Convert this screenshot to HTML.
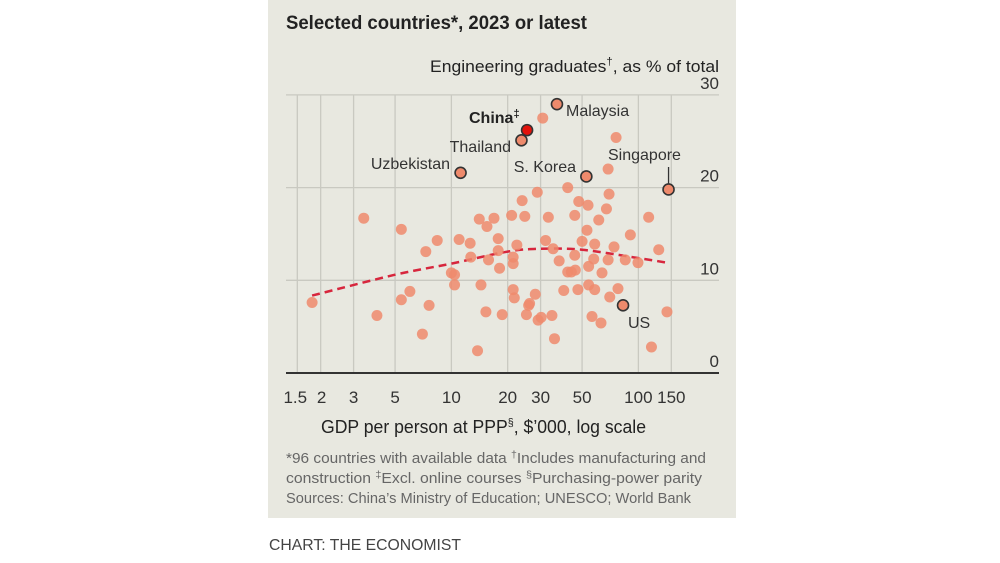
<!DOCTYPE html>
<html><head><meta charset="utf-8"><style>
body{margin:0;background:#fff;}
svg{display:block;font-family:"Liberation Sans Narrow","Liberation Sans",sans-serif;}
</style></head><body>
<svg id="chart" width="1000" height="563" viewBox="0 0 1000 563">
<rect x="268" y="0" width="468" height="518" fill="#e8e8e0"/>
<text x="286" y="29" font-size="19" font-weight="bold" fill="#222" textLength="301" lengthAdjust="spacingAndGlyphs">Selected countries*, 2023 or latest</text>
<text x="719" y="72" font-size="17" fill="#222" text-anchor="end" textLength="289" lengthAdjust="spacingAndGlyphs">Engineering graduates<tspan font-size="11" dy="-7">†</tspan><tspan dy="7">, as % of total</tspan></text>
<g id="grid"></g>
<g id="trend"></g>
<g id="dots"></g>
<g id="labels" font-size="16" fill="#333"></g>
<text x="321" y="433" font-size="18" fill="#222" textLength="325" lengthAdjust="spacingAndGlyphs">GDP per person at PPP<tspan font-size="11" dy="-7">§</tspan><tspan dy="7">, $’000, log scale</tspan></text>
<g font-size="14.5" fill="#666">
<text x="286" y="463" textLength="420" lengthAdjust="spacingAndGlyphs">*96 countries with available data   <tspan font-size="10" dy="-5">†</tspan><tspan dy="5">Includes manufacturing and</tspan></text>
<text x="286" y="483" textLength="416" lengthAdjust="spacingAndGlyphs">construction   <tspan font-size="10" dy="-5">‡</tspan><tspan dy="5">Excl. online courses   </tspan><tspan font-size="10" dy="-5">§</tspan><tspan dy="5">Purchasing-power parity</tspan></text>
<text x="286" y="503" textLength="405" lengthAdjust="spacingAndGlyphs">Sources: China’s Ministry of Education; UNESCO; World Bank</text>
</g>
<text x="269" y="550" font-size="16" fill="#444" textLength="192" lengthAdjust="spacingAndGlyphs">CHART: THE ECONOMIST</text>
</svg>
<script>
const xTicks=[1.5,2,3,5,10,20,30,50,100,150];
const yTicks=[0,10,20,30];
const gdp=[1.8,3.4,4.0,5.4,5.4,6.0,7.0,7.3,7.6,8.4,10,10.4,11.0,10.4,12.6,12.7,13.8,14.1,14.4,15.3,15.5,15.8,16.9,17.8,17.8,18.1,18.7,21.0,21.4,21.4,21.4,21.7,22.4,23.9,24.7,25.2,25.9,26.2,28.1,28.8,29.1,30.2,30.8,31.9,33.0,34.5,35.0,35.6,37.7,39.9,41.9,41.9,43.8,45.7,45.7,46.0,47.5,48.0,50.0,53.1,53.8,54.2,54.2,56.5,57.7,58.4,58.4,61.4,63.1,63.9,67.5,68.9,68.9,69.7,70.3,74.1,76.0,77.8,85.1,90.6,99.5,113.5,117.5,128.5,142.2];
const share=[7.6,16.7,6.2,15.5,7.9,8.8,4.2,13.1,7.3,14.3,10.8,9.5,14.4,10.6,14.0,12.5,2.4,16.6,9.5,6.6,15.8,12.2,16.7,14.5,13.2,11.3,6.3,17.0,11.8,12.5,9.0,8.1,13.8,18.6,16.9,6.3,7.3,7.5,8.5,19.5,5.7,6.0,27.5,14.3,16.8,6.2,13.4,3.7,12.1,8.9,20.0,10.9,10.9,12.7,17.0,11.1,9.0,18.5,14.2,15.4,18.1,11.5,9.5,6.1,12.3,9.0,13.9,16.5,5.4,10.8,17.7,22.0,12.2,19.3,8.2,13.6,25.4,9.1,12.2,14.9,11.9,16.8,2.8,13.3,6.6];
const hlNames=["Uzbekistan","Thailand","S. Korea","Singapore","US","Malaysia","China"];
const hlGdp=[11.2,23.7,52.7,145,82.8,36.7,25.4];
const hlShare=[21.6,25.1,21.2,19.8,7.3,29.0,26.2];
const trendGdp=[1.8,5,10,20,30,50,100,142];
const trendShare=[8.35,10.6,11.8,13.1,13.4,13.3,12.4,11.9];

const NS="http://www.w3.org/2000/svg";
const X=g=>297.3+187*Math.log10(g/1.5);
const Y=v=>373-9.27*v;
function mk(tag,attrs,parent,txt){const e=document.createElementNS(NS,tag);for(const k in attrs)e.setAttribute(k,attrs[k]);if(txt!==undefined)e.textContent=txt;parent.appendChild(e);return e;}
const grid=document.getElementById('grid');
yTicks.forEach(v=>{
  if(v>0){const l=mk('line',{x1:286,x2:719,y1:Y(v),y2:Y(v),stroke:'#c9c9c1','stroke-width':1.3},grid);
  
  }
  const t=mk('text',{x:719,y:Y(v)-6,'text-anchor':'end','font-size':17,fill:'#333'},grid,String(v));
  
  
});
xTicks.forEach((g,i)=>{
  const l=mk('line',{x1:X(g),x2:X(g),y1:Y(30),y2:Y(0),stroke:'#c9c9c1','stroke-width':1.3},grid);
  
  
  const t=mk('text',{x:X(g)+(i==0?-2:i==1?1:0),y:403,'text-anchor':'middle','font-size':17,fill:'#333'},grid,String(g));
  
  
});
const ax=mk('line',{x1:286,x2:719,y1:Y(0),y2:Y(0),stroke:'#333','stroke-width':2},grid);



const dots=document.getElementById('dots');
gdp.forEach((g,i)=>{
  const c=mk('circle',{cx:X(g),cy:Y(share[i]),r:5.5,fill:'#ee8a6c','fill-opacity':0.85},dots);
  
  
});
// smooth Catmull-Rom path through trend points
const P=trendGdp.map((g,i)=>[X(g),Y(trendShare[i])]);
let d='M'+P[0][0].toFixed(1)+','+P[0][1].toFixed(1);
for(let i=0;i<P.length-1;i++){
  const p0=P[Math.max(0,i-1)],p1=P[i],p2=P[i+1],p3=P[Math.min(P.length-1,i+2)];
  const c1=[p1[0]+(p2[0]-p0[0])/6,p1[1]+(p2[1]-p0[1])/6];
  const c2=[p2[0]-(p3[0]-p1[0])/6,p2[1]-(p3[1]-p1[1])/6];
  d+='C'+c1.map(v=>v.toFixed(1)).join(',')+' '+c2.map(v=>v.toFixed(1)).join(',')+' '+p2.map(v=>v.toFixed(1)).join(',');
}
const tr=mk('path',{d:d,fill:'none',stroke:'#d7263d','stroke-width':2.5,'stroke-dasharray':'8,5'},document.getElementById('trend'));



const labels=document.getElementById('labels');
const lab={"Uzbekistan":[450,169,'end'],"Thailand":[511,152,'end'],"S. Korea":[576,172,'end'],"Singapore":[608,160,'start'],"US":[628,328,'start'],"Malaysia":[566,116,'start']};
hlGdp.forEach((g,i)=>{
  const n=hlNames[i];
  const c=mk('circle',{cx:X(g),cy:Y(hlShare[i]),r:5.5,fill:n=='China'?'#e3120b':'#ee8a6c',stroke:'#333','stroke-width':1.6},dots);
  
  
  if(lab[n]){const t=mk('text',{x:lab[n][0],y:lab[n][1],'text-anchor':lab[n][2]},labels,n);
    
    }
});
const cl=mk('text',{x:469,y:123,'font-weight':'bold',fill:'#222'},labels,'China');


mk('tspan',{'font-size':11,dy:-6},cl,'‡');
const ld=mk('line',{x1:X(145),x2:X(145),y1:167,y2:Y(19.8)-6,stroke:'#333','stroke-width':1.3},labels);


</script>
</body></html>
